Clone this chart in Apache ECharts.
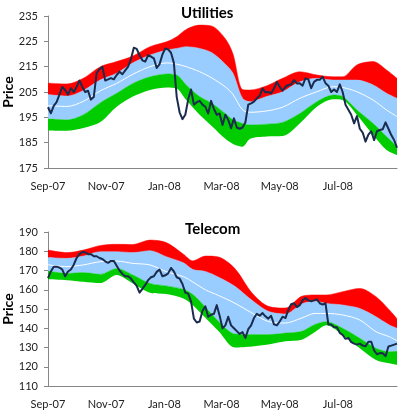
<!DOCTYPE html>
<html>
<head>
<meta charset="utf-8">
<script src="https://cdn.jsdelivr.net/npm/echarts@6/dist/echarts.min.js"></script>
<style>
html,body{margin:0;padding:0;background:#fff;}
#chart{width:400px;height:414px;}
</style>
</head>
<body>
<div id="chart"></div>
<script>
// tick labels on the date axis (first day of every other month)
var xLabels = ['Sep-07', 'Nov-07', 'Jan-08', 'Mar-08', 'May-08', 'Jul-08'];
var startDay = Date.UTC(2007, 8, 1);
var dayCount = 367;
var priceStep = 3; // price sampled every 3 calendar days from Sep 1, 2007

// Utilities: band edges (day offsets from Sep 1, 2007)
var uBandDays = [0,20,37,55,72,89,107,125,135,145,159,172,186,194,204,212,229,246,264,282,299,309,324,341,355,366];
var uHi2 = [208.5,208.2,210.4,215,217,219.2,222.9,224.9,226.8,229.7,231.4,231,226,220,206,205.8,207.4,210.4,213,211.7,211,211,215.7,217,213.7,210.4];
var uHi1 = [204,203.4,205.6,209.8,212.4,216.5,219.6,221.6,222.2,222.9,222.2,220.5,216,212.4,202.5,201.2,203.2,205.1,209,210.4,209.7,209.7,209.7,207.8,204.5,202.5];
var uMid = [199.6,199.3,201.3,205.5,208.4,212,215,216.5,216,215,213,210.5,207,204,198,197,197.5,199,202.5,205.1,207.1,206.8,205.1,201.8,197.9,195.3];
var uLo1 = [194.4,194,196,200.8,204.5,208.4,211,212.1,211.7,207.8,203.2,200.5,196.5,194,192.6,192,192.3,193,196.5,201.2,203.8,203.2,197.9,192.6,187.4,183.4];
var uLo2 = [189.8,189.7,190.8,193.2,199.2,203.2,205.8,206.8,206.4,201.8,196,191.5,186.5,184.5,183.4,186.5,187.4,187.6,192.6,199.2,202.1,201.8,195.9,188,182.1,180.1];
var uPrice = [
  199,196.6,199.5,201,204,207,205.8,204,206.5,205,
  207,209.5,207,205,205.5,202,203,212.5,214,215,
  209.5,210,210.5,210,211.7,213,212,213.5,215,218,
  222.5,222,219.5,217.5,217,219.5,219,218.3,214.5,216,
  219.8,222.2,221.8,220.5,216.5,203,197,194.3,196,202,
  206,200,201,201.5,200,199.2,196.5,201.5,198.3,196,
  196.5,192,196,194,190.7,194.6,191,190.5,191,193,
  200,200.5,201.2,202.5,203.5,206.4,204.8,205,204.5,206.4,
  209,207,205.5,207,207.8,208,209.7,208.4,208.5,207.5,
  210.4,210,206.5,209,209.8,209.8,211,208.5,207.5,205,
  206,205,208,205,200,198,196,192.6,195.5,190.5,
  189,185.4,188.2,189.5,186,189.5,190,190.3,193,190.5,
  188,186,183
];

// Telecom
var tBandDays = [0,20,37,55,72,89,107,124,142,152,165,179,196,214,231,249,266,280,292,309,327,344,358,366];
var tHi2 = [180.6,179.3,180.6,183,183.6,183.5,185.8,184.5,178.5,175,177.5,177,171,158.3,151.4,150.5,156.6,157.3,157.3,159,160.7,156.4,149.5,145];
var tHi1 = [176.8,176.3,177.5,179.8,179.8,179.3,180.3,177.2,174,170.5,169.5,166.5,161.8,154.5,148.8,147.4,152.6,154,152.9,152.1,150.3,146,141.7,140];
var tMid = [173,172,172.9,174.6,174.9,173.7,172.9,169.4,166.8,164,160,157,153,147.9,143.5,142.7,145.3,147.7,147.7,146.9,144.3,138.2,135.6,133.5];
var tLo1 = [169.7,168.5,168.9,168,171.1,167.7,163.3,162,160.2,157.5,151,143.5,137,136.7,136.7,137.5,138.4,142,143.4,140,134.8,129.6,127.8,128];
var tLo2 = [165.5,165,164.2,163.5,167.7,163.3,158.5,157.8,155.5,152,145.5,138.5,130,130.5,131.5,133.2,134,138,141.5,136.5,129.6,123.5,121.8,121];
var tPrice = [
  166,169.5,172,172,171.5,170.5,167,169.5,170.5,173,
  176.5,178.5,179.6,179.5,178.5,178.5,177.4,177.4,176.5,176,
  174.8,174,175,175,172.5,170,168.2,167,167,165.8,
  163.8,162,158.5,160.5,162.5,165,166.5,167,169.3,170.5,
  167,167.5,168.5,171.3,169.5,166.5,165.8,163,158.5,158,
  154,145,143,143.5,149,151.4,146,147,147.5,152,
  146.5,140,141.5,146,141.5,140,138.5,137,138,135,
  139.5,141.5,145.3,147.5,146.5,147.9,146.2,145,146.5,142,
  141.5,143.5,146,145.3,149.5,152.5,153,151,152,154.5,
  155.7,154.5,154,154.5,155,153,152.3,153,142,142,
  140.5,140.5,137.6,136.5,134.5,135,132.8,132,131.5,132,
  131,130.6,133,133,128.5,126.5,127.1,127,125.5,130.5,
  131,131.5,132
];

var MONTHS = ['Jan','Feb','Mar','Apr','May','Jun','Jul','Aug','Sep','Oct','Nov','Dec'];
var days = [];
for (var i = 0; i < dayCount; i++) {
    var d = new Date(startDay + i * 86400000);
    days.push(MONTHS[d.getUTCMonth()] + '-' + String(d.getUTCFullYear()).slice(2));
    if (d.getUTCDate() !== 1) days[i] += '/' + d.getUTCDate(); // only 1st of month keeps a clean label
}

var font = 'Lato';
var colors = {red:'#ff0000', blue:'#99ccff', green:'#00cc00', mid:'#ffffff', price:'#1a2b4c', axis:'#868686'};

// tiny extend helper instead of jquery
var $ = {extend:function(t) {
    for (var i = 1; i < arguments.length; i++) for (var k in arguments[i]) t[k] = arguments[i][k];
    return t;
}};

function pairs(xs, ys) {
    return xs.map(function(x, i) { return [x, ys[i]]; });
}
function diff(xs, a, b) {
    return xs.map(function(x, i) { return [x, +(a[i] - b[i]).toFixed(2)]; });
}

function panelSeries(gi, bd, hi2, hi1, mid, lo1, lo2, price) {
    var stack = 'band' + gi;
    var common = {type:'line', xAxisIndex:gi, yAxisIndex:gi, stack:stack, symbol:'none',
        smooth:0.3, silent:true};
    var priceDays = price.map(function(v, k) { return k * priceStep; });
    return [
        $.extend({}, common, {data:pairs(bd, lo2), lineStyle:{opacity:0}}),
        $.extend({}, common, {data:diff(bd, lo1, lo2), lineStyle:{width:0.5, color:colors.green},
            areaStyle:{color:colors.green, opacity:1}}),
        $.extend({}, common, {data:diff(bd, hi1, lo1), lineStyle:{width:0.5, color:colors.blue},
            areaStyle:{color:colors.blue, opacity:1}}),
        $.extend({}, common, {data:diff(bd, hi2, hi1), lineStyle:{width:0.5, color:colors.red},
            areaStyle:{color:colors.red, opacity:1}}),
        {type:'line', xAxisIndex:gi, yAxisIndex:gi, symbol:'none', smooth:0.3, silent:true,
            data:pairs(bd, mid), lineStyle:{width:1, color:colors.mid}, z:3},
        {type:'line', xAxisIndex:gi, yAxisIndex:gi, symbol:'none', silent:true,
            data:pairs(priceDays, price), lineStyle:{width:2, color:colors.price, join:'round'}, z:4}
    ];
}

function xAxis(gi) {
    return {
        type:'category', gridIndex:gi, data:days, boundaryGap:false,
        axisLine:{lineStyle:{color:colors.axis, width:1}},
        axisTick:{show:false},
        axisLabel:{
            interval:function(index, value) { return xLabels.indexOf(value) >= 0 && index < dayCount - 1; },
            margin:13, fontFamily:font, fontSize:11, color:'#222', align:'center'
        },
        splitLine:{show:false}
    };
}
function yAxis(gi, min, max) {
    return {
        type:'value', gridIndex:gi, min:min, max:max, interval:10,
        name:'Price', nameLocation:'middle', nameGap:33, nameMoveOverlap:false,
        nameTextStyle:{fontFamily:font, fontSize:14, fontWeight:'bold', color:'#000'},
        axisLine:{show:true, lineStyle:{color:colors.axis, width:1}},
        axisTick:{show:true, length:4, lineStyle:{color:colors.axis}},
        axisLabel:{margin:10, fontFamily:font, fontSize:11, color:'#222'},
        splitLine:{show:false}
    };
}

var chart = echarts.init(document.getElementById('chart'));
chart.setOption({
    animation:false,
    backgroundColor:'#fff',
    title:[
        {text:'Utilities', left:176, top:1, textStyle:{fontFamily:font, fontSize:15, fontWeight:'bold', color:'#000'}},
        {text:'Telecom', left:180, top:217, textStyle:{fontFamily:font, fontSize:15, fontWeight:'bold', color:'#000'}}
    ],
    grid:[
        {left:48, right:3, top:16, height:152, containLabel:false, outerBoundsMode:'none'},
        {left:48, right:3, top:232, height:154, containLabel:false, outerBoundsMode:'none'}
    ],
    xAxis:[xAxis(0), xAxis(1)],
    yAxis:[yAxis(0, 175, 235), yAxis(1, 110, 190)],
    series:panelSeries(0, uBandDays, uHi2, uHi1, uMid, uLo1, uLo2, uPrice)
        .concat(panelSeries(1, tBandDays, tHi2, tHi1, tMid, tLo1, tLo2, tPrice))
});
</script>
</body>
</html>
